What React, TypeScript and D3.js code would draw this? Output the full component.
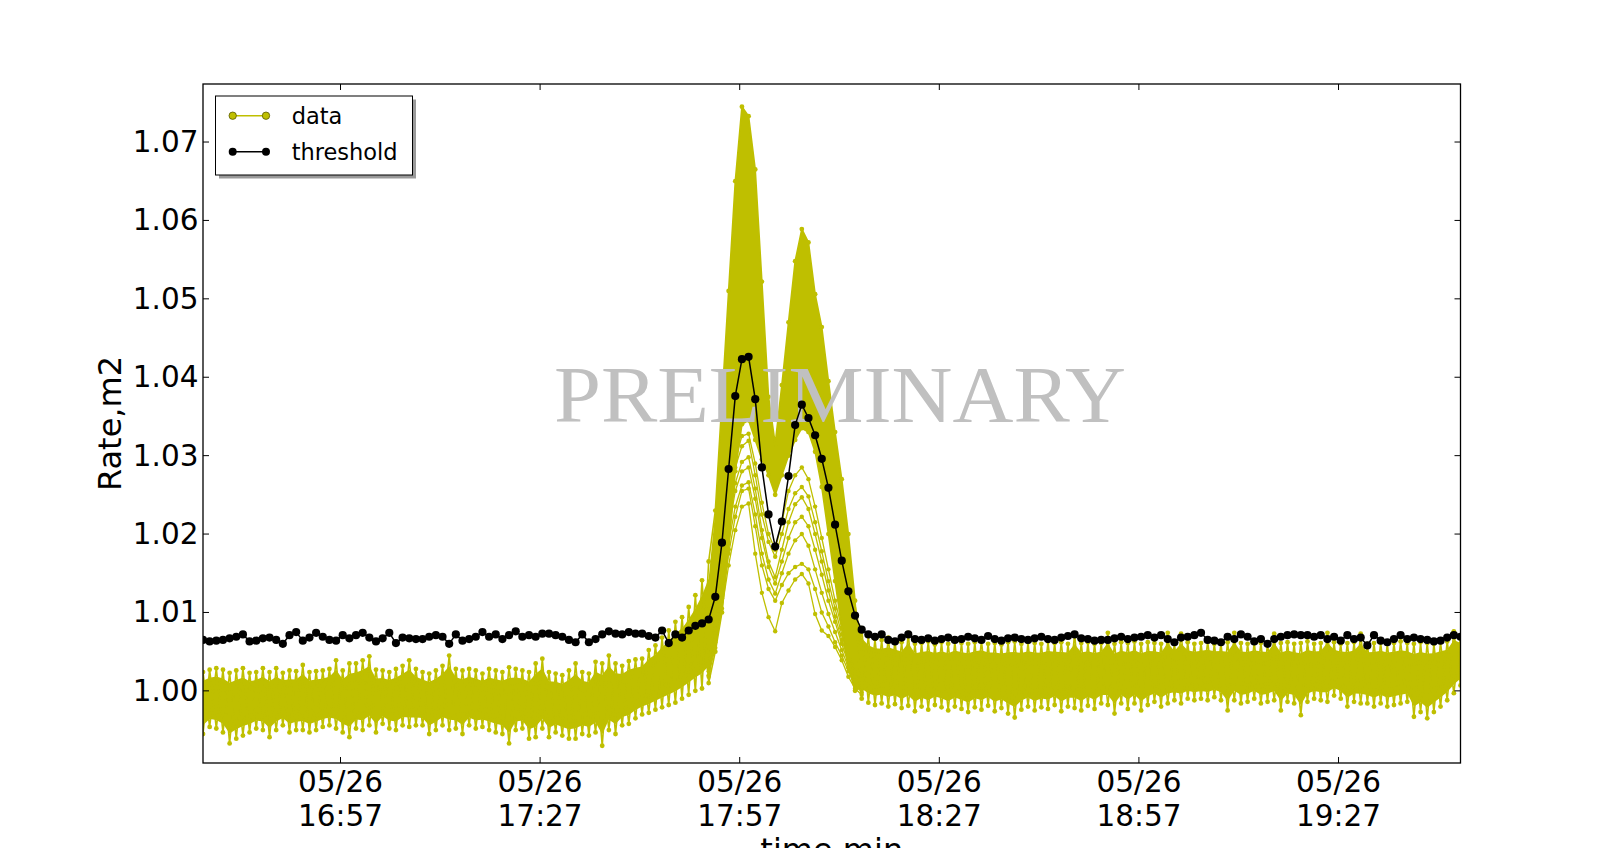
import React from 'react';
import * as d3 from 'd3';

// ---------- data ----------
const startTime = new Date(2016, 4, 26, 16, 36, 20);
const stepMinutes = 1;

const thresholdValues = [
  1.0065, 1.0063, 1.0064, 1.0065, 1.0067, 1.0069, 1.0072, 1.0063, 1.0064, 1.0067,
  1.0068, 1.0065, 1.0060, 1.0071, 1.0075, 1.0064, 1.0068, 1.0074, 1.0069, 1.0065,
  1.0064, 1.0071, 1.0067, 1.0071, 1.0074, 1.0068, 1.0063, 1.0067, 1.0074, 1.0061,
  1.0068, 1.0067, 1.0066, 1.0066, 1.0069, 1.0071, 1.0069, 1.0060, 1.0072, 1.0064,
  1.0066, 1.0069, 1.0075, 1.0069, 1.0072, 1.0066, 1.0071, 1.0076, 1.0069, 1.0071,
  1.0069, 1.0073, 1.0073, 1.0071, 1.0069, 1.0065, 1.0062, 1.0072, 1.0062, 1.0066,
  1.0072, 1.0076, 1.0073, 1.0072, 1.0075, 1.0073, 1.0073, 1.0070, 1.0068, 1.0077,
  1.0061, 1.0072, 1.0068, 1.0077, 1.0083, 1.0086, 1.0091, 1.0120, 1.0189, 1.0283,
  1.0376, 1.0423, 1.0426, 1.0372, 1.0285, 1.0225, 1.0184, 1.0216, 1.0274, 1.0339,
  1.0365, 1.0348, 1.0326, 1.0296, 1.0259, 1.0212, 1.0166, 1.0127, 1.0096, 1.0078,
  1.0072, 1.0069, 1.0072, 1.0065, 1.0063, 1.0068, 1.0072, 1.0066, 1.0065, 1.0067,
  1.0064, 1.0066, 1.0068, 1.0065, 1.0066, 1.0069, 1.0067, 1.0065, 1.0070, 1.0066,
  1.0064, 1.0067, 1.0068, 1.0066, 1.0065, 1.0067, 1.0069, 1.0066, 1.0065, 1.0068,
  1.0070, 1.0072, 1.0067, 1.0066, 1.0064, 1.0065, 1.0065, 1.0067, 1.0069, 1.0066,
  1.0068, 1.0069, 1.0071, 1.0068, 1.0071, 1.0066, 1.0062, 1.0068, 1.0069, 1.0071,
  1.0074, 1.0065, 1.0064, 1.0062, 1.0069, 1.0066, 1.0072, 1.0069, 1.0063, 1.0066,
  1.0060, 1.0066, 1.0069, 1.0071, 1.0072, 1.0071, 1.0071, 1.0069, 1.0071, 1.0066,
  1.0069, 1.0064, 1.0071, 1.0066, 1.0068, 1.0058, 1.0071, 1.0064, 1.0062, 1.0066,
  1.0071, 1.0066, 1.0068, 1.0066, 1.0065, 1.0063, 1.0064, 1.0068, 1.0071, 1.0069,
];

// highest yellow point at each minute
const dataUpper = [
  1.0024, 1.0027, 1.0029, 1.0027, 1.0023, 1.0026, 1.0029, 1.0023, 1.0024, 1.0029,
  1.0024, 1.0029, 1.0023, 1.0026, 1.0025, 1.0033, 1.0024, 1.0025, 1.0026, 1.0028,
  1.0039, 1.0026, 1.0035, 1.0035, 1.0039, 1.0044, 1.0027, 1.0026, 1.0024, 1.0028,
  1.0032, 1.0039, 1.0028, 1.0024, 1.0022, 1.0026, 1.0032, 1.0045, 1.0028, 1.0026,
  1.0028, 1.0026, 1.0022, 1.0028, 1.0026, 1.0024, 1.0030, 1.0028, 1.0026, 1.0024,
  1.0035, 1.0041, 1.0024, 1.0022, 1.0020, 1.0026, 1.0035, 1.0024, 1.0022, 1.0037,
  1.0035, 1.0045, 1.0035, 1.0032, 1.0038, 1.0040, 1.0041, 1.0052, 1.0058, 1.0068,
  1.0077, 1.0088, 1.0094, 1.0107, 1.0122, 1.0141, 1.0165, 1.0230, 1.0370, 1.0510,
  1.0650, 1.0745, 1.0733, 1.0665, 1.0522, 1.0375, 1.0315, 1.0390, 1.0470, 1.0548,
  1.0589, 1.0572, 1.0506, 1.0464, 1.0395, 1.0330, 1.0270, 1.0200, 1.0115, 1.0080,
  1.0070, 1.0066, 1.0065, 1.0068, 1.0064, 1.0062, 1.0074, 1.0060, 1.0061, 1.0063,
  1.0059, 1.0062, 1.0060, 1.0063, 1.0061, 1.0060, 1.0062, 1.0064, 1.0060, 1.0061,
  1.0059, 1.0062, 1.0063, 1.0060, 1.0062, 1.0061, 1.0060, 1.0063, 1.0061, 1.0062,
  1.0060, 1.0073, 1.0061, 1.0062, 1.0060, 1.0061, 1.0074, 1.0060, 1.0062, 1.0061,
  1.0063, 1.0060, 1.0062, 1.0061, 1.0060, 1.0074, 1.0061, 1.0073, 1.0062, 1.0060,
  1.0061, 1.0063, 1.0060, 1.0061, 1.0062, 1.0074, 1.0061, 1.0060, 1.0062, 1.0061,
  1.0060, 1.0073, 1.0061, 1.0062, 1.0060, 1.0061, 1.0063, 1.0060, 1.0061, 1.0074,
  1.0062, 1.0060, 1.0061, 1.0062, 1.0073, 1.0060, 1.0061, 1.0062, 1.0060, 1.0061,
  1.0063, 1.0061, 1.0060, 1.0062, 1.0061, 1.0060, 1.0062, 1.0063, 1.0076, 1.0070,
];

// lowest yellow point at each minute (lower edge of the dense group inside the peak)
const dataLower = [
  0.9945, 0.9954, 0.9952, 0.9947, 0.9933, 0.9939, 0.9943, 0.9947, 0.9952, 0.9950,
  0.9941, 0.9950, 0.9956, 0.9947, 0.9950, 0.9950, 0.9947, 0.9950, 0.9954, 0.9956,
  0.9952, 0.9947, 0.9941, 0.9952, 0.9950, 0.9956, 0.9947, 0.9958, 0.9952, 0.9950,
  0.9956, 0.9954, 0.9956, 0.9956, 0.9945, 0.9950, 0.9956, 0.9950, 0.9952, 0.9945,
  0.9956, 0.9952, 0.9954, 0.9950, 0.9947, 0.9945, 0.9933, 0.9950, 0.9952, 0.9939,
  0.9941, 0.9952, 0.9941, 0.9947, 0.9943, 0.9939, 0.9939, 0.9945, 0.9943, 0.9947,
  0.9930, 0.9950, 0.9945, 0.9956, 0.9958, 0.9965, 0.9970, 0.9972, 0.9976, 0.9979,
  0.9982, 0.9985, 0.9990, 0.9995, 1.0000, 1.0003, 1.0010, 1.0050, 1.0100, 1.0180,
  1.0280, 1.0340, 1.0345, 1.0320, 1.0295, 1.0275, 1.0250, 1.0275, 1.0300, 1.0320,
  1.0335, 1.0330, 1.0305, 1.0260, 1.0200, 1.0140, 1.0080, 1.0030, 1.0000, 0.9990,
  0.9985, 0.9982, 0.9984, 0.9980, 0.9983, 0.9978, 0.9981, 0.9974, 0.9980, 0.9976,
  0.9982, 0.9979, 0.9975, 0.9980, 0.9977, 0.9973, 0.9979, 0.9976, 0.9981, 0.9974,
  0.9978, 0.9971, 0.9966, 0.9976, 0.9980, 0.9975, 0.9979, 0.9977, 0.9982, 0.9974,
  0.9980, 0.9978, 0.9975, 0.9981, 0.9977, 0.9984, 0.9982, 0.9971, 0.9984, 0.9977,
  0.9984, 0.9975, 0.9982, 0.9986, 0.9980, 0.9984, 0.9988, 0.9984, 0.9990, 0.9988,
  0.9990, 0.9988, 0.9992, 0.9988, 0.9975, 0.9988, 0.9984, 0.9986, 0.9990, 0.9984,
  0.9986, 0.9988, 0.9975, 0.9986, 0.9984, 0.9969, 0.9986, 0.9990, 0.9988, 0.9986,
  0.9994, 0.9990, 0.9980, 0.9986, 0.9984, 0.9984, 0.9980, 0.9984, 0.9980, 0.9982,
  0.9984, 0.9986, 0.9967, 0.9973, 0.9965, 0.9973, 0.9980, 0.9988, 0.9997, 1.0007,
];

// minutes where the signal is a smooth peak rather than the minute-to-minute zigzag
const peakWindow = [77, 98];

// weaker channels that stay visible as separate lines below the peak (from minute 76)
const weakStart = 76;
const weakTrace1 = [1.0020, 1.0055, 1.0105, 1.0160, 1.0205, 1.0235, 1.0239, 1.0175, 1.0125, 1.0094, 1.0076, 1.0112, 1.0128, 1.0142, 1.0149, 1.0137, 1.0098, 1.0077, 1.0070, 1.0056, 1.0039, 1.0018, 1.0003, 0.9995];
const weakTrace2 = [1.0025, 1.0062, 1.0118, 1.0175, 1.0222, 1.0255, 1.0258, 1.0210, 1.0160, 1.0130, 1.0115, 1.0135, 1.0150, 1.0158, 1.0162, 1.0155, 1.0130, 1.0100, 1.0082, 1.0062, 1.0045, 1.0025, 1.0008, 0.9998];
const weakTrace3 = [1.0018, 1.0070, 1.0125, 1.0188, 1.0235, 1.0262, 1.0266, 1.0225, 1.0175, 1.0142, 1.0124, 1.0150, 1.0175, 1.0192, 1.0200, 1.0185, 1.0155, 1.0125, 1.0098, 1.0075, 1.0052, 1.0030, 1.0012, 1.0002];
const weakTrace4 = [1.0030, 1.0078, 1.0140, 1.0205, 1.0255, 1.0280, 1.0285, 1.0245, 1.0195, 1.0158, 1.0137, 1.0165, 1.0195, 1.0215, 1.0222, 1.0210, 1.0180, 1.0148, 1.0115, 1.0088, 1.0060, 1.0035, 1.0015, 1.0004];
const weakTrace5 = [1.0028, 1.0085, 1.0150, 1.0215, 1.0265, 1.0292, 1.0298, 1.0258, 1.0205, 1.0165, 1.0145, 1.0180, 1.0215, 1.0238, 1.0247, 1.0232, 1.0200, 1.0165, 1.0128, 1.0095, 1.0065, 1.0040, 1.0018, 1.0005];
const weakTrace6 = [1.0035, 1.0092, 1.0160, 1.0230, 1.0285, 1.0312, 1.0319, 1.0275, 1.0225, 1.0190, 1.0171, 1.0200, 1.0232, 1.0252, 1.0260, 1.0248, 1.0215, 1.0178, 1.0140, 1.0105, 1.0072, 1.0045, 1.0022, 1.0008];
const weakTrace7 = [1.0032, 1.0098, 1.0170, 1.0240, 1.0295, 1.0325, 1.0328, 1.0290, 1.0240, 1.0200, 1.0180, 1.0215, 1.0255, 1.0275, 1.0285, 1.0270, 1.0235, 1.0195, 1.0155, 1.0115, 1.0080, 1.0050, 1.0025, 1.0010];
const weakTraces = [weakTrace1, weakTrace2, weakTrace3, weakTrace4, weakTrace5, weakTrace6, weakTrace7];

const yTicks = [1.0, 1.01, 1.02, 1.03, 1.04, 1.05, 1.06, 1.07];
const yDomain = [0.9908, 1.0774];
const xTickDate = '05/26';
const xTickTimes = ['16:57', '17:27', '17:57', '18:27', '18:57', '19:27'];

const YELLOW = '#bfbf00';
const FONT = '"DejaVu Sans", "Liberation Sans", sans-serif';

export default function App() {
  const width = 1623;
  const height = 848;
  const plot = { left: 203, right: 1460.5, top: 84, bottom: 763 };
  const n = thresholdValues.length;
  const idx = d3.range(n);
  const times = idx.map((i) => new Date(startTime.getTime() + i * stepMinutes * 60000));

  const x = d3.scaleTime().domain([times[0], times[n - 1]]).range([plot.left, plot.right]);
  const y = d3.scaleLinear().domain(yDomain).range([plot.bottom, plot.top]);

  const inPeak = (i: number) => i >= peakWindow[0] && i <= peakWindow[1];
  const inner = (i: number) => (inPeak(i) ? 0 : 0.14);

  const band = d3
    .area<number>()
    .x((i) => x(times[i]))
    .y0((i) => y(dataLower[i] + inner(i) * (dataUpper[i] - dataLower[i])))
    .y1((i) => y(dataUpper[i] - inner(i) * (dataUpper[i] - dataLower[i])));

  const line = d3
    .line<[Date, number]>()
    .x((d) => x(d[0]))
    .y((d) => y(d[1]));

  const zigA: [Date, number][] = idx.map((i) => [
    times[i],
    inPeak(i) ? dataUpper[i] : i % 2 === 0 ? dataUpper[i] : dataLower[i],
  ]);
  const zigB: [Date, number][] = idx.map((i) => [
    times[i],
    inPeak(i) ? dataLower[i] : i % 2 === 0 ? dataLower[i] : dataUpper[i],
  ]);
  const weak: [Date, number][][] = weakTraces.map((tr) =>
    tr.map((v, k) => [times[weakStart + k], v] as [Date, number])
  );
  const thr: [Date, number][] = idx.map((i) => [times[i], thresholdValues[i]]);

  const tickDates = xTickTimes.map((s) => {
    const [h, m] = s.split(':').map(Number);
    return new Date(2016, 4, 26, h, m, 0);
  });
  const fmtTime = d3.timeFormat('%H:%M');

  const tickLen = 6;

  return (
    <div style={{ position: 'absolute', left: 0, top: 0 }}>
      <svg width={width} height={height} style={{ display: 'block', background: '#fff' }}>
        <defs>
          <clipPath id="plotClip">
            <rect x={plot.left} y={plot.top} width={plot.right - plot.left} height={plot.bottom - plot.top} />
          </clipPath>
        </defs>
        <rect x={0} y={0} width={width} height={height} fill="#fff" />

        <g clipPath="url(#plotClip)">
          {/* data cloud */}
          <path d={band(idx) || ''} fill={YELLOW} stroke="none" />
          <path d={line(zigA) || ''} fill="none" stroke={YELLOW} strokeWidth={1.6} strokeLinejoin="round" />
          <path d={line(zigB) || ''} fill="none" stroke={YELLOW} strokeWidth={1.6} strokeLinejoin="round" />
          {weak.map((w, k) => (
            <path key={'w' + k} d={line(w) || ''} fill="none" stroke={YELLOW} strokeWidth={1.3} />
          ))}
          {idx.map((i) => (
            <g key={'yd' + i}>
              <circle cx={x(times[i])} cy={y(dataUpper[i])} r={2.4} fill={YELLOW} />
              <circle cx={x(times[i])} cy={y(dataLower[i])} r={2.4} fill={YELLOW} />
            </g>
          ))}
          {weak.map((w, k) =>
            w.map((d, j) => <circle key={'wd' + k + '-' + j} cx={x(d[0])} cy={y(d[1])} r={2.2} fill={YELLOW} />)
          )}

          {/* watermark */}
          <text
            x={840}
            y={422}
            textAnchor="middle"
            fontFamily='"Liberation Serif", "DejaVu Serif", serif'
            fontSize={80}
            textLength={572}
            lengthAdjust="spacingAndGlyphs"
            fill="#c0c0c0"
          >
            PRELIMINARY
          </text>

          {/* threshold */}
          <path d={line(thr) || ''} fill="none" stroke="#000" strokeWidth={1.5} />
          {thr.map((d, i) => (
            <circle key={'t' + i} cx={x(d[0])} cy={y(d[1])} r={4.1} fill="#000" />
          ))}
        </g>

        {/* frame */}
        <rect
          x={plot.left}
          y={plot.top}
          width={plot.right - plot.left}
          height={plot.bottom - plot.top}
          fill="none"
          stroke="#000"
          strokeWidth={1.3}
        />

        {/* y ticks */}
        {yTicks.map((t) => (
          <g key={'yt' + t}>
            <line x1={plot.left} x2={plot.left + tickLen} y1={y(t)} y2={y(t)} stroke="#000" strokeWidth={1} />
            <line x1={plot.right} x2={plot.right - tickLen} y1={y(t)} y2={y(t)} stroke="#000" strokeWidth={1} />
            <text
              x={plot.left - 4.5}
              y={y(t)}
              textAnchor="end"
              dominantBaseline="central"
              fontFamily={FONT}
              fontSize={29.5}
              fill="#000"
            >
              {d3.format('.2f')(t)}
            </text>
          </g>
        ))}

        {/* x ticks */}
        {tickDates.map((t, k) => (
          <g key={'xt' + k}>
            <line x1={x(t)} x2={x(t)} y1={plot.bottom} y2={plot.bottom - tickLen} stroke="#000" strokeWidth={1} />
            <line x1={x(t)} x2={x(t)} y1={plot.top} y2={plot.top + tickLen} stroke="#000" strokeWidth={1} />
            <text x={x(t)} y={792} textAnchor="middle" fontFamily={FONT} fontSize={29.5} fill="#000">
              {xTickDate}
            </text>
            <text x={x(t)} y={826} textAnchor="middle" fontFamily={FONT} fontSize={29.5} fill="#000">
              {fmtTime(t)}
            </text>
          </g>
        ))}

        {/* axis labels */}
        <text
          transform={`translate(110, ${(plot.top + plot.bottom) / 2}) rotate(-90)`}
          textAnchor="middle"
          dominantBaseline="central"
          fontFamily={FONT}
          fontSize={32}
          fill="#000"
        >
          Rate,m2
        </text>
        <text
          x={(plot.left + plot.right) / 2}
          y={861}
          textAnchor="middle"
          fontFamily={FONT}
          fontSize={32}
          fill="#000"
        >
          time,min
        </text>

        {/* legend */}
        <g>
          <rect x={219} y={99.5} width={197} height={79} fill="#9a9a9a" />
          <rect x={215.5} y={96} width={197} height={79} fill="#fff" stroke="#000" strokeWidth={1} />
          <line x1={232.7} x2={266} y1={115.7} y2={115.7} stroke={YELLOW} strokeWidth={1.4} />
          <circle cx={232.7} cy={115.7} r={3.7} fill={YELLOW} stroke="#5a5a00" strokeWidth={0.8} />
          <circle cx={266} cy={115.7} r={3.7} fill={YELLOW} stroke="#5a5a00" strokeWidth={0.8} />
          <text x={291.7} y={124} fontFamily={FONT} fontSize={22.5} fill="#000">
            data
          </text>
          <line x1={232.7} x2={266} y1={151.7} y2={151.7} stroke="#000" strokeWidth={1.4} />
          <circle cx={232.7} cy={151.7} r={4} fill="#000" />
          <circle cx={266} cy={151.7} r={4} fill="#000" />
          <text x={291.7} y={160.3} fontFamily={FONT} fontSize={22.5} fill="#000">
            threshold
          </text>
        </g>
      </svg>
    </div>
  );
}
